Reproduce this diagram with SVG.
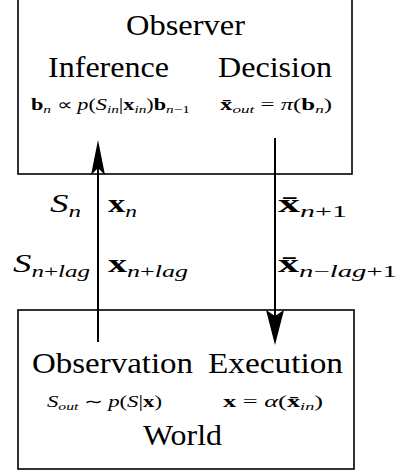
<svg xmlns="http://www.w3.org/2000/svg" width="399" height="472" viewBox="0 0 399 472" font-family="Liberation Serif">
<style>
.box{fill:none;stroke:#000;stroke-width:1.6}
.conn{stroke:#000;stroke-width:2;fill:none}
.head{fill:#000;stroke:none}
</style>
<rect width="399" height="472" fill="#fff"/>
<g id="observer">
<rect class="box" x="18" y="-5" width="334" height="179"/>
<text x="126" y="35" font-size="30" font-family="Liberation Serif" textLength="119" lengthAdjust="spacingAndGlyphs">Observer</text>
<text x="48" y="77" font-size="30" font-family="Liberation Serif" textLength="121" lengthAdjust="spacingAndGlyphs">Inference</text>
<text x="218" y="77" font-size="30" font-family="Liberation Serif" textLength="114" lengthAdjust="spacingAndGlyphs">Decision</text>
<text x="31" y="110" font-size="16" font-family="Liberation Serif" textLength="159" lengthAdjust="spacingAndGlyphs"><tspan font-weight="bold">b</tspan><tspan font-style="italic" font-size="11" dy="3">n</tspan><tspan dy="-3"> ∝ </tspan><tspan font-style="italic">p</tspan>(<tspan font-style="italic">S</tspan><tspan font-style="italic" font-size="11" dy="3">in</tspan><tspan dy="-3">|</tspan><tspan font-weight="bold">x</tspan><tspan font-style="italic" font-size="11" dy="3">in</tspan><tspan dy="-3">)</tspan><tspan font-weight="bold">b</tspan><tspan font-size="11" dy="3"><tspan font-style="italic">n</tspan>−1</tspan></text>
<text x="220" y="110" font-size="16" font-family="Liberation Serif" textLength="112" lengthAdjust="spacingAndGlyphs"><tspan font-weight="bold">x̄</tspan><tspan font-style="italic" font-size="11" dy="3">out</tspan><tspan dy="-3"> = </tspan><tspan font-style="italic">π</tspan>(<tspan font-weight="bold">b</tspan><tspan font-style="italic" font-size="11" dy="3">n</tspan><tspan dy="-3">)</tspan></text>
</g>
<g id="world">
<rect class="box" x="18" y="310" width="336" height="159"/>
<text x="32" y="373" font-size="30" font-family="Liberation Serif" textLength="161" lengthAdjust="spacingAndGlyphs">Observation</text>
<text x="208" y="373" font-size="30" font-family="Liberation Serif" textLength="135" lengthAdjust="spacingAndGlyphs">Execution</text>
<text x="47" y="407" font-size="16" font-family="Liberation Serif" textLength="115" lengthAdjust="spacingAndGlyphs"><tspan font-style="italic">S</tspan><tspan font-style="italic" font-size="11" dy="3">out</tspan><tspan dy="-3"> ∼ </tspan><tspan font-style="italic">p</tspan>(<tspan font-style="italic">S</tspan>|<tspan font-weight="bold">x</tspan>)</text>
<text x="223" y="407" font-size="16" font-family="Liberation Serif" textLength="100" lengthAdjust="spacingAndGlyphs"><tspan font-weight="bold">x</tspan> = <tspan font-style="italic">α</tspan>(<tspan font-weight="bold">x̄</tspan><tspan font-style="italic" font-size="11" dy="3">in</tspan><tspan dy="-3">)</tspan></text>
<text x="143" y="445" font-size="30" font-family="Liberation Serif" textLength="79" lengthAdjust="spacingAndGlyphs">World</text>
</g>
<g id="connectors">
<path class="conn" d="M98,342 L98,165"/>
<path class="head" d="M98,140 L105,175 L98,168 L91,175 Z"/>
<path class="conn" d="M275,138 L275,318"/>
<path class="head" d="M275,345 L266,310 L275,316 L284,310 Z"/>
<text x="50" y="212" font-size="25" font-family="Liberation Serif" textLength="31" lengthAdjust="spacingAndGlyphs"><tspan font-style="italic">S</tspan><tspan font-style="italic" font-size="17" dy="5">n</tspan></text>
<text x="108" y="212" font-size="25" font-family="Liberation Serif" textLength="29" lengthAdjust="spacingAndGlyphs"><tspan font-weight="bold">x</tspan><tspan font-style="italic" font-size="17" dy="5">n</tspan></text>
<text x="278" y="212" font-size="25" font-family="Liberation Serif" textLength="69" lengthAdjust="spacingAndGlyphs"><tspan font-weight="bold">x̄</tspan><tspan font-size="17" dy="5"><tspan font-style="italic">n</tspan>+1</tspan></text>
<text x="13" y="272" font-size="25" font-family="Liberation Serif" textLength="77" lengthAdjust="spacingAndGlyphs"><tspan font-style="italic">S</tspan><tspan font-size="17" dy="5"><tspan font-style="italic">n</tspan>+<tspan font-style="italic">lag</tspan></tspan></text>
<text x="108" y="272" font-size="25" font-family="Liberation Serif" textLength="80" lengthAdjust="spacingAndGlyphs"><tspan font-weight="bold">x</tspan><tspan font-size="17" dy="5"><tspan font-style="italic">n</tspan>+<tspan font-style="italic">lag</tspan></tspan></text>
<text x="278" y="272" font-size="25" font-family="Liberation Serif" textLength="119" lengthAdjust="spacingAndGlyphs"><tspan font-weight="bold">x̄</tspan><tspan font-size="17" dy="5"><tspan font-style="italic">n</tspan>−<tspan font-style="italic">lag</tspan>+1</tspan></text>
</g>
</svg>
